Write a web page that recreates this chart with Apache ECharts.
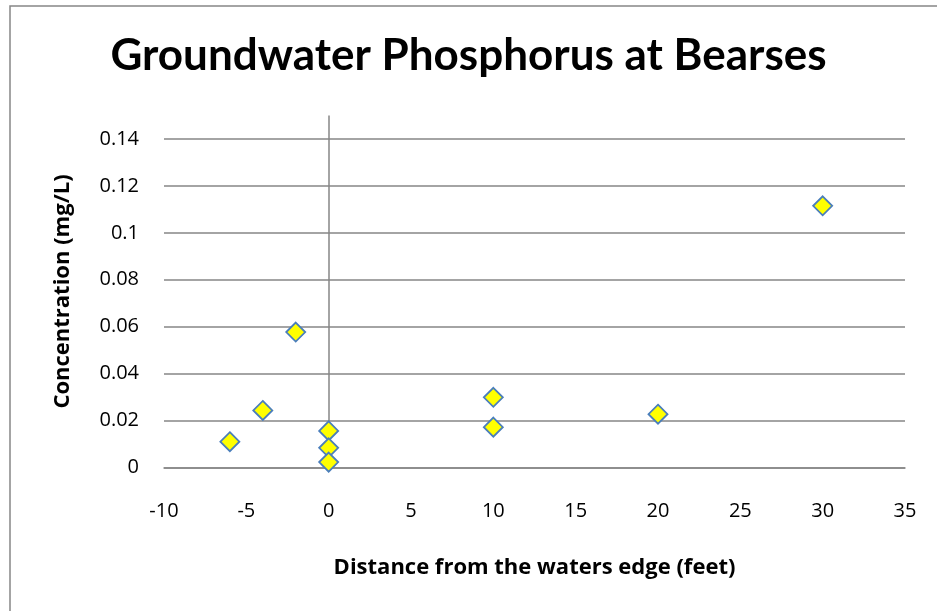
<!DOCTYPE html>
<html><head><meta charset="utf-8">
<script src="https://cdn.jsdelivr.net/npm/echarts@6/dist/echarts.min.js"></script>
<style>html,body{margin:0;padding:0;background:#fff}#c{width:937px;height:611px}</style>
</head><body><div id="c"></div>
<script>
const distances = [-6, -4, -2, 0, 0, 0, 10, 10, 20, 30];
const concentrations = [0.011, 0.0243, 0.0577, 0.0156, 0.0084, 0.0023, 0.0299, 0.0172, 0.0227, 0.1115];
const xTicks = [-10, 35, 5];   // min, max, interval
const yTicks = [0, 0.15, 0.02]; // min, max, interval
const titleText = 'Groundwater Phosphorus at Bearses';
const xTitle = 'Distance from the waters edge (feet)';
const yTitle = 'Concentration (mg/L)';

const titleFont = 'Lato, sans-serif';
const font = '"Open Sans", Lato, sans-serif';
const chart = echarts.init(document.getElementById('c'), null, {renderer: 'canvas'});
chart.setOption({
  backgroundColor: '#fff',
  animation: false,
  graphic: [{
    type: 'rect', left: 7.5, top: 3.5, shape: {x: 0, y: 0, width: 960, height: 606},
    style: {fill: 'none', stroke: '#868686', lineWidth: 1.5}, silent: true
  }],
  title: {
    text: titleText, left: 'center', top: 29,
    textStyle: {fontFamily: titleFont, fontWeight: 'bold', fontSize: 44, color: '#000'}
  },
  grid: {left: 164, right: 32, top: 115.5, bottom: 143.5},
  xAxis: {
    type: 'value', min: xTicks[0], max: xTicks[1], interval: xTicks[2],
    axisLine: {show: true, onZero: false, lineStyle: {color: '#868686', width: 1.5}},
    axisTick: {show: false},
    splitLine: {show: false},
    axisLabel: {fontFamily: font, fontSize: 20, color: '#000', margin: 34},
    name: xTitle, nameLocation: 'middle', nameGap: 89,
    nameTextStyle: {fontFamily: font, fontWeight: 'bold', fontSize: 22, color: '#000'}
  },
  yAxis: {
    type: 'value', min: yTicks[0], max: yTicks[1], interval: yTicks[2],
    axisLine: {show: false},
    axisTick: {show: false},
    splitLine: {show: true, showMaxLine: false, lineStyle: {color: '#868686', width: 1.5}},
    axisLabel: {fontFamily: font, fontSize: 20, color: '#000', margin: 25, showMaxLabel: false,
      formatter: v => String(+v.toFixed(2))},
    name: yTitle, nameLocation: 'middle', nameGap: 90, nameRotate: 90,
    nameTextStyle: {fontFamily: font, fontWeight: 'bold', fontSize: 22, color: '#000'}
  },
  series: [{
    type: 'scatter',
    data: distances.map((d, i) => [d, concentrations[i]]),
    symbol: 'diamond', symbolSize: 19,
    itemStyle: {color: '#FFFF00', borderColor: '#4A7EBB', borderWidth: 1.8, opacity: 1},
    markLine: {
      silent: true, symbol: 'none', label: {show: false},
      lineStyle: {color: '#868686', width: 1.5, type: 'solid'},
      data: [{xAxis: 0}]
    },
    z: 5
  }]
});
</script></body></html>
